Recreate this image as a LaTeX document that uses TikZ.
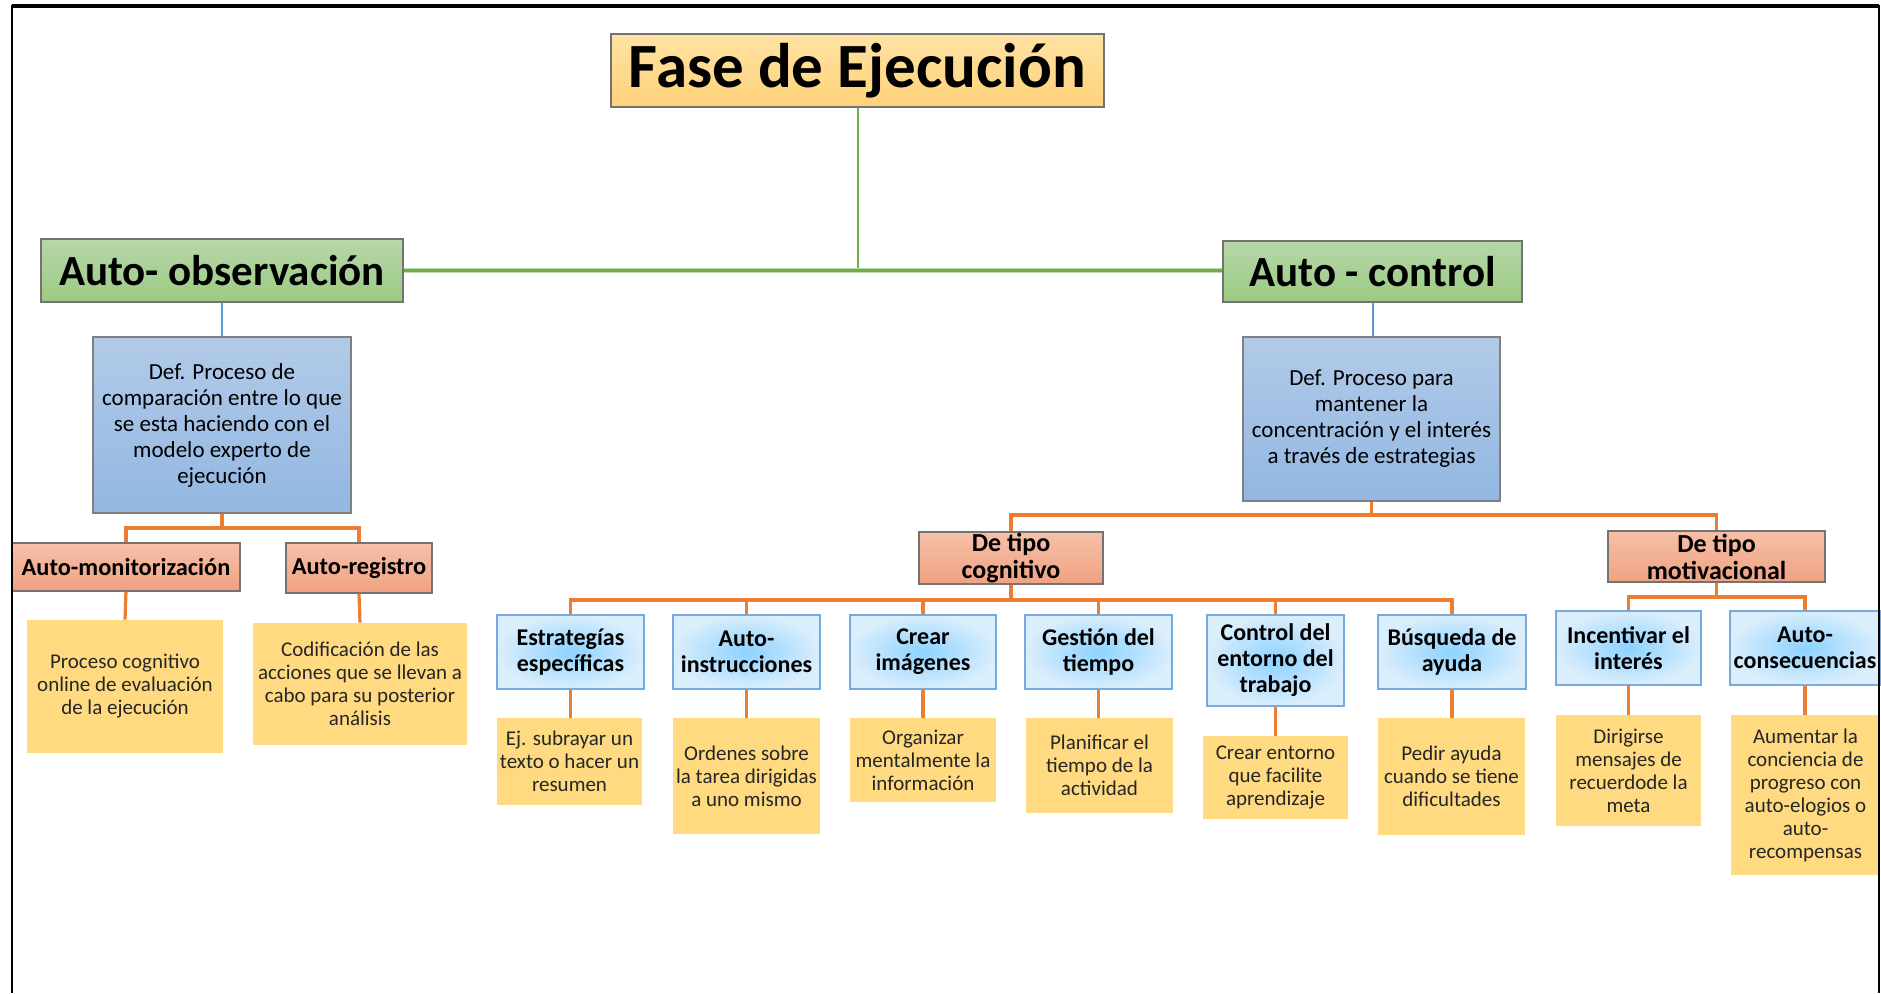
\documentclass[tikz,border=0pt]{standalone}
\usepackage{fontspec}
\setmainfont{Carlito}
\definecolor{titletop}{RGB}{255,226,165}
\definecolor{titlebot}{RGB}{255,210,120}
\definecolor{greentop}{RGB}{183,215,168}
\definecolor{greenbot}{RGB}{155,202,132}
\definecolor{deftop}{RGB}{178,202,232}
\definecolor{defbot}{RGB}{146,183,226}
\definecolor{tipotop}{RGB}{246,192,168}
\definecolor{tipobot}{RGB}{240,162,130}
\definecolor{stratin}{RGB}{140,210,255}
\definecolor{stratout}{RGB}{218,238,252}
\definecolor{stratline}{RGB}{120,170,222}
\definecolor{notefill}{RGB}{255,218,128}
\definecolor{gcon}{RGB}{112,173,71}
\definecolor{bcon}{RGB}{91,155,213}
\definecolor{ocon}{RGB}{237,125,49}
\begin{document}
\begin{tikzpicture}[x=0.5pt,y=-0.5pt,
	titlebox/.style={draw=black!55, line width=0.6pt, top color=titletop, bottom color=titlebot, inner sep=0pt, font=\fontsize{31.5}{36}\selectfont\bfseries},
	greenbox/.style={draw=black!55, line width=0.6pt, top color=greentop, bottom color=greenbot, inner sep=0pt, font=\fontsize{21.5}{24}\selectfont\bfseries},
	defbox/.style={draw=black!50, line width=0.6pt, top color=deftop, bottom color=defbot, inner sep=0pt, align=center, font=\fontsize{11.5}{13}\selectfont},
	tipobox/.style={draw=black!55, line width=0.6pt, top color=tipotop, bottom color=tipobot, inner sep=0pt, align=center, font=\fontsize{12.2}{13.5}\selectfont\bfseries},
	stratbox/.style={draw=stratline, line width=0.7pt, inner color=stratin, outer color=stratout, inner sep=0pt, align=center, minimum width=73.5pt, minimum height=37pt, font=\fontsize{12}{13}\selectfont\bfseries},
	notebox/.style={fill=notefill, inner sep=0pt, align=center, minimum width=72.5pt, text=black!85, font=\fontsize{10.5}{11.5}\selectfont},
	gline/.style={gcon, line width=1pt},
	bline/.style={bcon, line width=1pt},
	oline/.style={ocon, line width=1.6pt}]
	\useasboundingbox (0,0) rectangle (1881,993);

	\node[titlebox, minimum width=246.5pt, minimum height=36.5pt] (fase) at (857.5,70.5) {Fase de Ejecución};
	\node[greenbox, minimum width=181pt, minimum height=31.5pt] (obs) at (222,270.5) {Auto- observación};
	\node[greenbox, minimum width=149.5pt, minimum height=30.5pt] (ctrl) at (1372.5,271.5) {Auto - control};

	\node[defbox, minimum width=129pt, minimum height=88pt] (defobs) at (222,425) {Def. Proceso de\\comparación entre lo que\\se esta haciendo con el\\modelo experto de\\ejecución};
	\node[defbox, minimum width=128.5pt, minimum height=82pt] (defctrl) at (1371.5,419) {Def. Proceso para\\mantener la\\concentración y el interés\\a través de estrategias};

	\node[tipobox, minimum width=114pt, minimum height=24pt] (mon) at (126,567) {Auto-monitorización};
	\node[tipobox, minimum width=73pt, minimum height=25pt] (reg) at (359,568) {Auto-registro};
	\node[notebox, minimum width=98pt, minimum height=66.5pt] (nmon) at (125,686.5) {Proceso cognitivo\\online de evaluación\\de la ejecución};
	\node[notebox, minimum width=107pt, minimum height=61pt] (nreg) at (360,684) {Codificación de las\\acciones que se llevan a\\cabo para su posterior\\análisis};

	\node[tipobox, minimum width=92pt, minimum height=26pt, font=\fontsize{13}{13.5}\selectfont\bfseries] (cog) at (1011,558) {De tipo\\cognitivo};
	\node[tipobox, minimum width=108.5pt, minimum height=25.5pt, font=\fontsize{13}{13.5}\selectfont\bfseries] (mot) at (1716.5,556.5) {De tipo\\motivacional};

	\node[stratbox] (est) at (570.5,652) {Estrategías\\específicas};
	\node[stratbox] (instr) at (746.5,652) {Auto-\\instrucciones};
	\node[stratbox, minimum width=73pt] (img) at (923,652) {Crear\\imágenes};
	\node[stratbox] (tiempo) at (1098.5,652) {Gestión del\\tiempo};
	\node[stratbox, minimum width=68.5pt, minimum height=45.5pt] (entorno) at (1275.5,660.5) {Control del\\entorno del\\trabajo};
	\node[stratbox, minimum width=74pt] (ayuda) at (1452,652) {Búsqueda de\\ayuda};
	\node[stratbox, minimum width=72.5pt] (incent) at (1628.5,648) {Incentivar el\\interés};
	\node[stratbox, minimum width=75pt] (conse) at (1805,648) {Auto-\\consecuencias};

	\node[notebox, minimum height=43.5pt] (nest) at (569.5,761.5) {Ej. subrayar un\\texto o hacer un\\resumen};
	\node[notebox, minimum width=73.5pt, minimum height=58pt] (ninstr) at (746.5,776) {Ordenes sobre\\la tarea dirigidas\\a uno mismo};
	\node[notebox, minimum width=73pt, minimum height=42pt] (nimg) at (923,760) {Organizar\\mentalmente la\\información};
	\node[notebox, minimum width=73.5pt, minimum height=47.5pt] (ntiempo) at (1099.5,765.5) {Planificar el\\tiempo de la\\actividad};
	\node[notebox, minimum height=41.5pt] (nentorno) at (1275.5,777.5) {Crear entorno\\que facilite\\aprendizaje};
	\node[notebox, minimum width=73.5pt, minimum height=58.5pt] (nayuda) at (1451.5,776.5) {Pedir ayuda\\cuando se tiene\\dificultades};
	\node[notebox, minimum height=55.5pt] (nincent) at (1628.5,770.5) {Dirigirse\\mensajes de\\recuerdode la\\meta};
	\node[notebox, minimum width=74.5pt, minimum height=80pt] (nconse) at (1805.5,795) {Aumentar la\\conciencia de\\progreso con\\auto-elogios o\\auto-\\recompensas};

	% niveles de las barras
	\coordinate (barobs) at (0,528);
	\coordinate (barctrl) at (0,515);
	\coordinate (barcog) at (0,600);
	\coordinate (barmot) at (0,597);

	\draw[gline] (fase.south) -- (fase.south |- obs.east);
	\draw[gcon!45, line width=2.2pt] (obs.east) -- (obs.east -| ctrl.west);
	\draw[gline, line width=1.1pt] (obs.east) -- (obs.east -| ctrl.west);
	\draw[bline] (obs.south) -- (defobs.north);
	\draw[bline] (ctrl.south) -- (ctrl.south |- defctrl.north);

	\draw[oline] (defobs.south) -- (defobs.south |- barobs) -| (mon.north);
	\draw[oline] (defobs.south |- barobs) -| (reg.north);
	\draw[oline] (mon.south) -- (nmon.north);
	\draw[oline] (reg.south) -- (nreg.north);

	\draw[oline] (defctrl.south) -- (defctrl.south |- barctrl) -| (cog.north);
	\draw[oline] (defctrl.south |- barctrl) -| (mot.north);
	\foreach \s in {est,instr,img,tiempo,entorno,ayuda}
		\draw[oline] (cog.south) -- (cog.south |- barcog) -| (\s.north);
	\foreach \s in {incent,conse}
		\draw[oline] (mot.south) -- (mot.south |- barmot) -| (\s.north);
	\foreach \s in {est,instr,img,tiempo,entorno,ayuda,incent,conse}
		\draw[oline] (\s.south) -- (\s.south |- n\s.north);

	\draw[line width=1pt] (12,993) -- (12,6) -- (1879,6) -- (1879,993);
	\draw[line width=1.8pt] (12,6) -- (1879,6);
\end{tikzpicture}
\end{document}
